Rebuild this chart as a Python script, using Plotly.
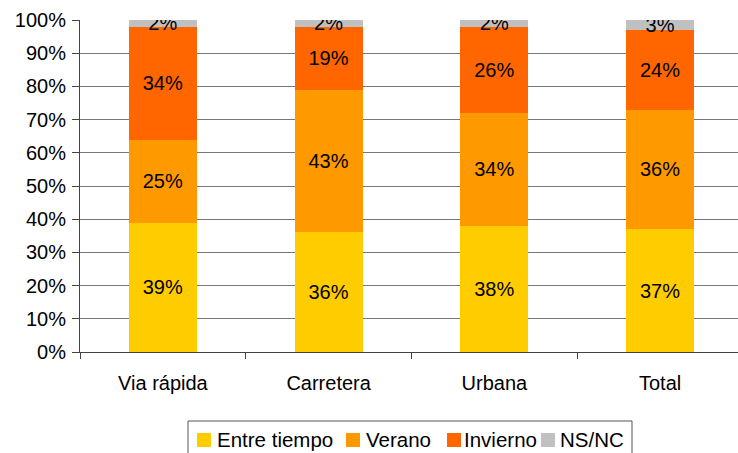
import plotly.graph_objects as go

categories = ["Via rápida", "Carretera", "Urbana", "Total"]
entre_tiempo = [39, 36, 38, 37]
verano = [25, 43, 34, 36]
invierno = [34, 19, 26, 24]
ns_nc = [2, 2, 2, 3]

series = [
    ("Entre tiempo", entre_tiempo, "#FFCC00"),
    ("Verano", verano, "#FF9900"),
    ("Invierno", invierno, "#FF6600"),
    ("NS/NC", ns_nc, "#C0C0C0"),
]

FONT = "Liberation Sans, Arial, Helvetica, sans-serif"
W, H = 738, 453
ML, MR, MT, MB = 80, 0, 20, 101
PW, PH = W - ML - MR, H - MT - MB


def px2x(px):
    return (px - ML) / PW


def py2y(py):
    return (H - MB - py) / PH


fig = go.Figure()
for name, vals, color in series:
    fig.add_trace(go.Bar(
        name=name, x=categories, y=vals, marker=dict(color=color, line=dict(width=0)),
        text=[f"{v}%" for v in vals], textposition="inside", insidetextanchor="middle",
        constraintext="none", textangle=0,
        textfont=dict(family=FONT, size=20, color="black"),
        hoverinfo="skip", showlegend=False,
    ))

# legend box drawn in layout (pixel-matched to the reference)
shapes = [dict(type="rect", xref="paper", yref="paper",
               x0=px2x(188), x1=px2x(632), y0=py2y(421), y1=py2y(470),
               line=dict(color="#555", width=1), fillcolor="white", layer="below")]
annotations = []
sq_left = [197, 346, 447, 541]
txt_left = [215, 364, 462, 558]
for (name, _, color), sx, tx in zip(series, sq_left, txt_left):
    shapes.append(dict(type="rect", xref="paper", yref="paper",
                       x0=px2x(sx), x1=px2x(sx + 14), y0=py2y(433), y1=py2y(447),
                       line=dict(width=0), fillcolor=color))
    annotations.append(dict(xref="paper", yref="paper", x=px2x(tx), y=py2y(439),
                            xanchor="left", yanchor="middle", showarrow=False, text=name,
                            font=dict(family=FONT, size=20.5, color="black")))

fig.update_layout(
    barmode="stack", bargap=0.59,
    width=W, height=H,
    margin=dict(l=ML, r=MR, t=MT, b=MB, autoexpand=False),
    plot_bgcolor="white", paper_bgcolor="white",
    font=dict(family=FONT, size=20, color="black"),
    showlegend=False,
    shapes=shapes, annotations=annotations,
)
fig.update_yaxes(range=[0, 100], dtick=10, ticksuffix="%", showgrid=True, gridcolor="#777",
                 gridwidth=1, showline=True, linecolor="#444", ticks="outside", ticklen=7,
                 tickcolor="#444", zeroline=False, fixedrange=True, ticklabelstandoff=2)
fig.update_xaxes(showline=True, linecolor="#444", ticks="outside", ticklen=6, tickcolor="#444",
                 tickson="boundaries", range=[-0.5, 3.47], showgrid=False, ticklabelstandoff=13,
                 fixedrange=True)

fig.write_html("out.html", config={"displayModeBar": False},
               post_script="document.body.style.margin='0';document.body.style.overflow='hidden';")
